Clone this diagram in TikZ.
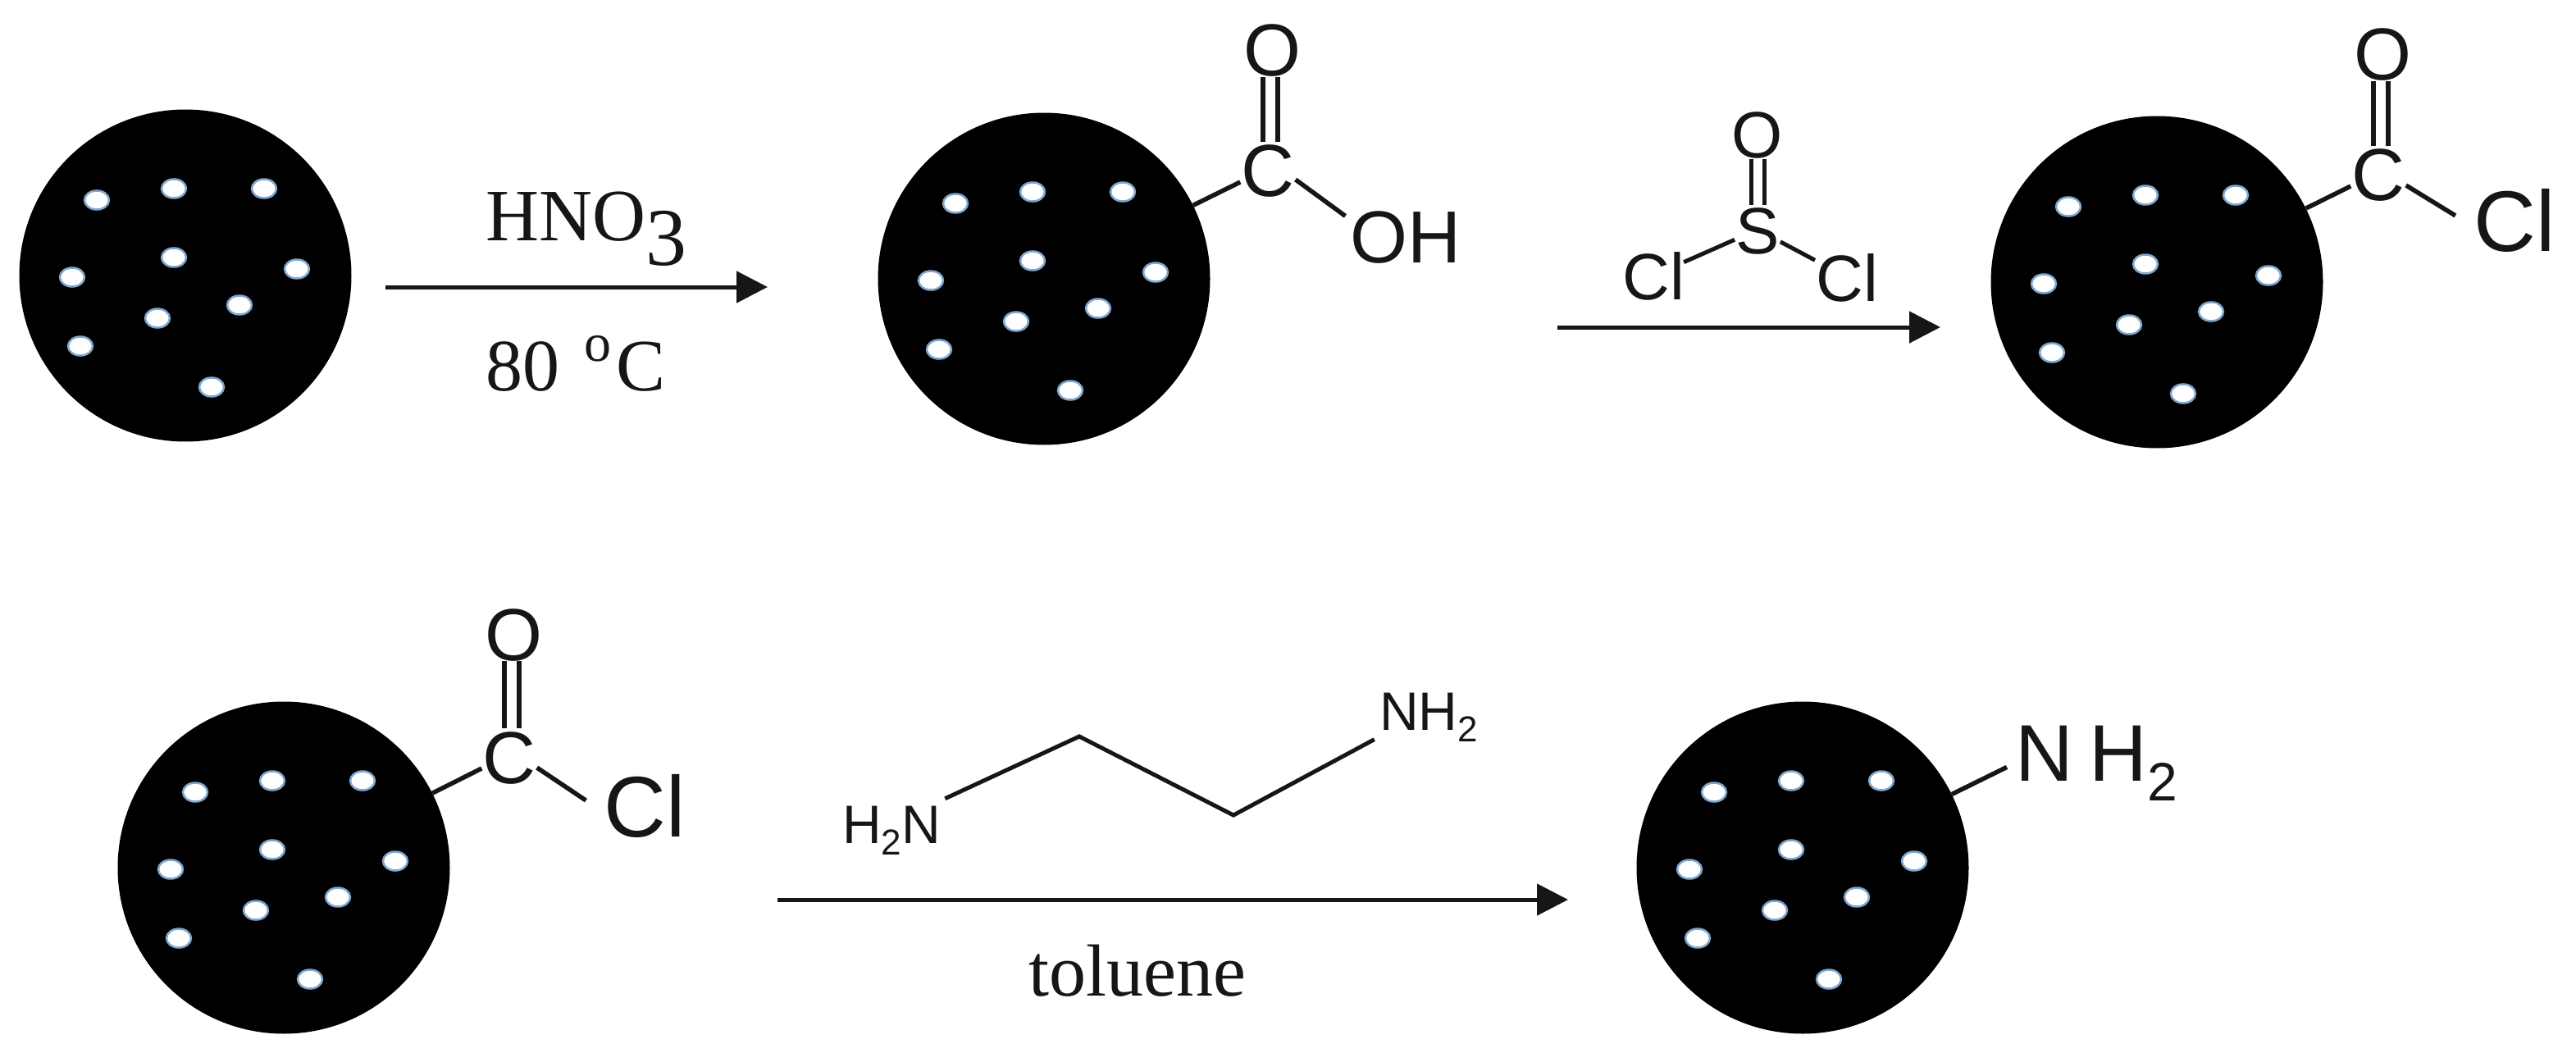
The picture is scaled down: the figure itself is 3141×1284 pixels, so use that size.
\documentclass[tikz,border=0pt]{standalone}
\usepackage{fontspec}
\setmainfont{Liberation Serif}
\newfontfamily\arialf{Liberation Sans}
\usetikzlibrary{arrows.meta,shapes.geometric}
\newcommand{\lowsub}[3]{\raisebox{#1pt}{\fontsize{#2}{#2}\selectfont #3}}
\definecolor{ink}{HTML}{161616}
\definecolor{poreblue}{HTML}{7FA6CC}
\tikzset{
  particle/.style={circle,fill=black,draw=none,minimum size=405pt,inner sep=0pt},
  pore/.style={ellipse,fill=white,draw=poreblue,line width=2.5pt,minimum width=30pt,minimum height=23pt,inner sep=0pt},
  atom/.style={font=\arialf\fontsize{90}{90}\selectfont,text=ink,inner sep=1pt,text height=66pt,text depth=0pt,anchor=center},
  bigatom/.style={font=\arialf\fontsize{105}{105}\selectfont,text=ink,inner sep=1pt,text height=76pt,text depth=0pt,anchor=center},
  smallatom/.style={font=\arialf\fontsize{80}{80}\selectfont,text=ink,inner sep=1pt,text height=58pt,text depth=0pt,anchor=center},
  tinyatom/.style={font=\arialf\fontsize{66}{66}\selectfont,text=ink,inner sep=1pt,text height=48pt,text depth=0pt,anchor=center},
  cond/.style={font=\fontsize{90}{90}\selectfont,text=ink,inner sep=0pt,anchor=base west},
  bond/.style={draw=ink,line width=5.5pt},
  thinbond/.style={draw=ink,line width=5pt},
  react/.style={draw=ink,line width=5pt,-{Triangle[length=38pt,width=38pt]}},
}
\begin{document}
\begin{tikzpicture}[x=1pt,y=-1pt]
\useasboundingbox (0,0) rectangle (3141,1284);
\fill[white] (0,0) rectangle (3141,1284);
% particles with pores
\foreach \n/\x/\y in {a/226/336,b/1273/340,c/2630/344,d/346/1058,e/2198/1058}{
  \node[particle] (p\n) at (\x,\y) {};
  \foreach \i/\dx/\dy in {1/-108/-92,2/-14/-106,3/96/-106,4/-138/2,5/-14/-22,6/136/-8,7/-34/52,8/66/36,9/-128/86,10/32/136}{
    \node[pore] (d\n\i) at ({\x+\dx},{\y+\dy}) {};
  }
}
% COOH on particle b
\node[atom] (cb) at (1546,207) {C};
\node[atom] (ob) at (1551,60) {O};
\node[atom] (ohb) at (1714,287) {OH};
\draw[bond] (pb) -- ([yshift=-15pt]cb.west);
\draw[bond,shorten >=6pt] ([yshift=-12pt]cb.east) -- ([yshift=20pt]ohb.west);
\draw[bond] ([xshift=-6pt]cb.north) -- ([xshift=-6pt]cb.north |- ob.south);
\draw[bond] ([xshift=12pt]cb.north) -- ([xshift=12pt]cb.north |- ob.south);
% COCl on particle c
\node[atom] (cc) at (2900,212) {C};
\node[atom] (oc) at (2905,65) {O};
\node[bigatom] (clc) at (3066,268) {Cl};
\draw[bond] (pc) -- ([yshift=-15pt]cc.west);
\draw[bond,shorten >=25pt] ([yshift=-14pt]cc.east) -- ([yshift=-8pt]clc.west);
\draw[bond] ([xshift=-6pt]cc.north) -- ([xshift=-6pt]cc.north |- oc.south);
\draw[bond] ([xshift=12pt]cc.north) -- ([xshift=12pt]cc.north |- oc.south);
% COCl on particle d
\node[atom] (cd) at (621,922) {C};
\node[atom] (od) at (626,772) {O};
\node[bigatom] (cld) at (786,982) {Cl};
\draw[bond] (pd) -- ([yshift=-15pt]cd.west);
\draw[bond,shorten >=25pt] ([yshift=-14pt]cd.east) -- ([yshift=-8pt]cld.west);
\draw[bond] ([xshift=-6pt]cd.north) -- ([xshift=-6pt]cd.north |- od.south);
\draw[bond] ([xshift=12pt]cd.north) -- ([xshift=12pt]cd.north |- od.south);
% NH2 on particle e
\node[bigatom,font=\arialf\fontsize{98}{98}\selectfont,text height=71pt,anchor=west] (ne) at (2456,917) {N\hspace{20pt}H\lowsub{-24}{66}{2}};
\draw[bond,shorten >=10pt] (pe) -- ([yshift=-14pt]ne.west);
% SOCl2
\node[smallatom] (os) at (2143,164) {O};
\node[smallatom] (ss) at (2143,280) {S};
\node[smallatom] (cll) at (2016,336) {Cl};
\node[smallatom] (clr) at (2252,338) {Cl};
\draw[thinbond,shorten >=-2pt] (ss) -- (cll);
\draw[thinbond] (ss) -- (clr);
\draw[thinbond] ([xshift=-8pt]ss.north) -- ([xshift=-8pt]os.south);
\draw[thinbond] ([xshift=8pt]ss.north) -- ([xshift=8pt]os.south);
% ethylenediamine
\node[tinyatom] (h2n) at (1087,1004) {H\lowsub{-14}{44}{2}N};
\node[tinyatom] (nh2) at (1742,866) {NH\lowsub{-14}{44}{2}};
\coordinate (ca) at (1316,898);
\coordinate (cb2) at (1504,994);
\draw[thinbond,line join=miter,shorten <=12pt,shorten >=22pt] (h2n) -- (ca) -- (cb2) -- (nh2);
% reactions
\coordinate (a1s) at (470,350);
\coordinate (a1e) at (936,350);
\coordinate (a2s) at (1899,399);
\coordinate (a2e) at (2366,399);
\coordinate (a3s) at (948,1097);
\coordinate (a3e) at (1912,1097);
\draw[react] (a1s) -- (a1e);
\draw[react] (a2s) -- (a2e);
\draw[react] (a3s) -- (a3e);
\node[cond] (hno) at (592,294) {HNO\lowsub{-30}{100}{3}};
\node[cond] (temp) at (592,476) {80\hspace{30pt}\raisebox{36pt}{\fontsize{66}{66}\selectfont o}\hspace{6pt}C};
\node[cond] (tol) at (1254,1214) {toluene};
\end{tikzpicture}
\end{document}
